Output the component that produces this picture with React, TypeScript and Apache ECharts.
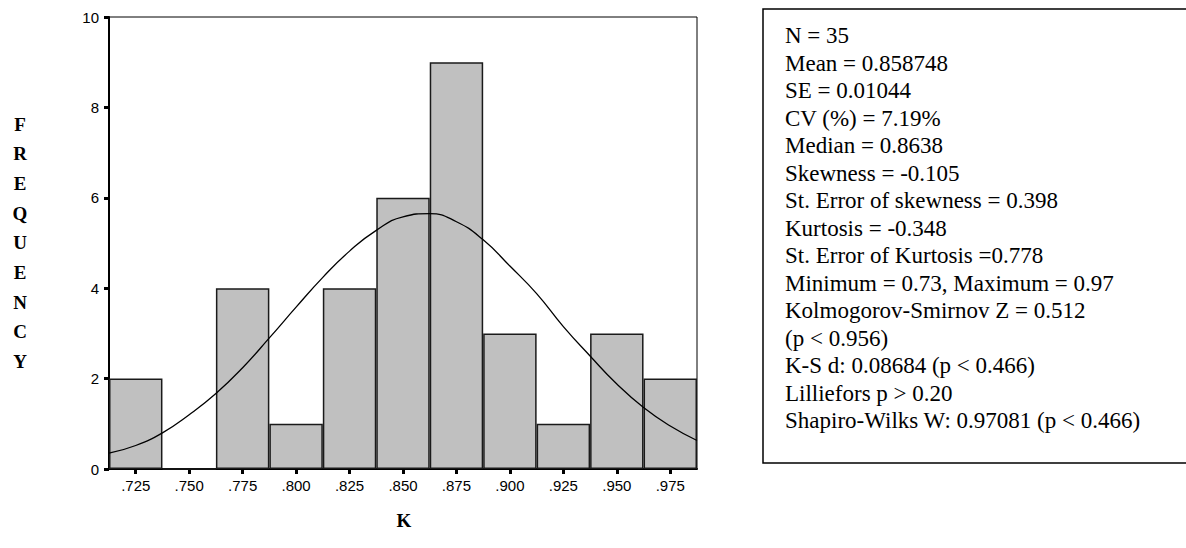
import React, { useEffect, useRef } from "react";
import * as echarts from "echarts";

const categories = [".725", ".750", ".775", ".800", ".825", ".850", ".875", ".900", ".925", ".950", ".975"];
const frequencies = [2, 0, 4, 1, 4, 6, 9, 3, 1, 3, 2];

const curveX = [0.7125, 0.725, 0.7375, 0.75, 0.7625, 0.775, 0.7875, 0.8, 0.8125, 0.825, 0.8375, 0.85, 0.8625, 0.875, 0.8875, 0.9, 0.9125, 0.925, 0.9375, 0.95, 0.9625, 0.975, 0.9875];
const curveY = [0.35, 0.52, 0.8, 1.2, 1.67, 2.24, 2.9, 3.58, 4.24, 4.82, 5.28, 5.58, 5.65, 5.47, 5.07, 4.49, 3.88, 3.15, 2.5, 1.88, 1.36, 0.95, 0.63];

const xRange = [0.7125, 0.9875];
const yTickValues = [0, 2, 4, 6, 8, 10];

const yTitleLetters = ["F", "R", "E", "Q", "U", "E", "N", "C", "Y"];
const xTitle = "K";

const statsLines = [
  "N = 35",
  "Mean = 0.858748",
  "SE = 0.01044",
  "CV (%) = 7.19%",
  "Median = 0.8638",
  "Skewness = -0.105",
  "St. Error of skewness = 0.398",
  "Kurtosis = -0.348",
  "St. Error of Kurtosis =0.778",
  "Minimum = 0.73, Maximum = 0.97",
  "Kolmogorov-Smirnov Z = 0.512",
  "(p < 0.956)",
  "K-S d: 0.08684 (p < 0.466)",
  "Lilliefors p > 0.20",
  "Shapiro-Wilks W: 0.97081 (p < 0.466)",
];

export default function App() {
  const ref = useRef<HTMLDivElement>(null);

  useEffect(() => {
    if (!ref.current) return;
    const chart = echarts.init(ref.current, undefined, { renderer: "svg" });

    const graphics: any[] = [];
    yTitleLetters.forEach((ch, i) => {
      graphics.push({
        type: "text",
        x: 20,
        y: 124 + i * 29.7,
        style: {
          text: ch,
          fontFamily: "Liberation Serif",
          fontWeight: "bold",
          fontSize: 19,
          fill: "#000",
          align: "center",
          verticalAlign: "middle",
        },
      });
    });
    graphics.push({
      type: "text",
      x: 404,
      y: 520,
      style: {
        text: xTitle,
        fontFamily: "Liberation Serif",
        fontWeight: "bold",
        fontSize: 19,
        fill: "#000",
        align: "center",
        verticalAlign: "middle",
      },
    });
    graphics.push({
      type: "rect",
      shape: { x: 763, y: 9, width: 440, height: 454 },
      style: { fill: "none", stroke: "#000", lineWidth: 1.5 },
    });
    statsLines.forEach((t, i) => {
      graphics.push({
        type: "text",
        x: 785,
        y: 35.5 + i * 27.5,
        style: {
          text: t,
          fontFamily: "Liberation Serif",
          fontSize: 23,
          fill: "#000",
          align: "left",
          verticalAlign: "middle",
        },
      });
    });

    chart.setOption({
      animation: false,
      backgroundColor: "#fff",
      grid: {
        left: 109,
        top: 17,
        width: 588,
        height: 452,
        show: true,
        borderColor: "#000",
        borderWidth: 1,
        backgroundColor: "transparent",
      },
      xAxis: [
        {
          type: "category",
          data: categories,
          boundaryGap: true,
          axisLine: { show: true, lineStyle: { color: "#000", width: 2 } },
          axisTick: { show: true, alignWithLabel: true, length: 5, lineStyle: { color: "#000", width: 3 } },
          axisLabel: { fontFamily: "Liberation Sans", fontSize: 15, color: "#000", margin: 9 },
          splitLine: { show: false },
        },
        {
          type: "value",
          min: xRange[0],
          max: xRange[1],
          show: false,
          splitLine: { show: false },
        },
      ],
      yAxis: {
        type: "value",
        min: yTickValues[0],
        max: yTickValues[yTickValues.length - 1],
        interval: yTickValues[1] - yTickValues[0],
        axisLine: { show: true, lineStyle: { color: "#000", width: 2 } },
        axisTick: { show: true, length: 5, lineStyle: { color: "#000", width: 3 } },
        axisLabel: { fontFamily: "Liberation Sans", fontSize: 15, color: "#000", margin: 10 },
        splitLine: { show: false },
      },
      series: [
        {
          type: "bar",
          xAxisIndex: 0,
          data: frequencies,
          barCategoryGap: "0%",
          itemStyle: { color: "#c0c0c0", borderColor: "#1a1a1a", borderWidth: 1.5 },
          z: 2,
        },
        {
          type: "line",
          xAxisIndex: 1,
          data: curveX.map((x, i) => [x, curveY[i]]),
          smooth: true,
          showSymbol: false,
          symbol: "none",
          lineStyle: { color: "#000", width: 1.3 },
          z: 3,
        },
      ],
      graphic: graphics,
    });

    return () => chart.dispose();
  }, []);

  return (
    <div
      ref={ref}
      style={{ position: "fixed", left: 0, top: 0, width: 1186, height: 548, background: "#fff" }}
    />
  );
}
